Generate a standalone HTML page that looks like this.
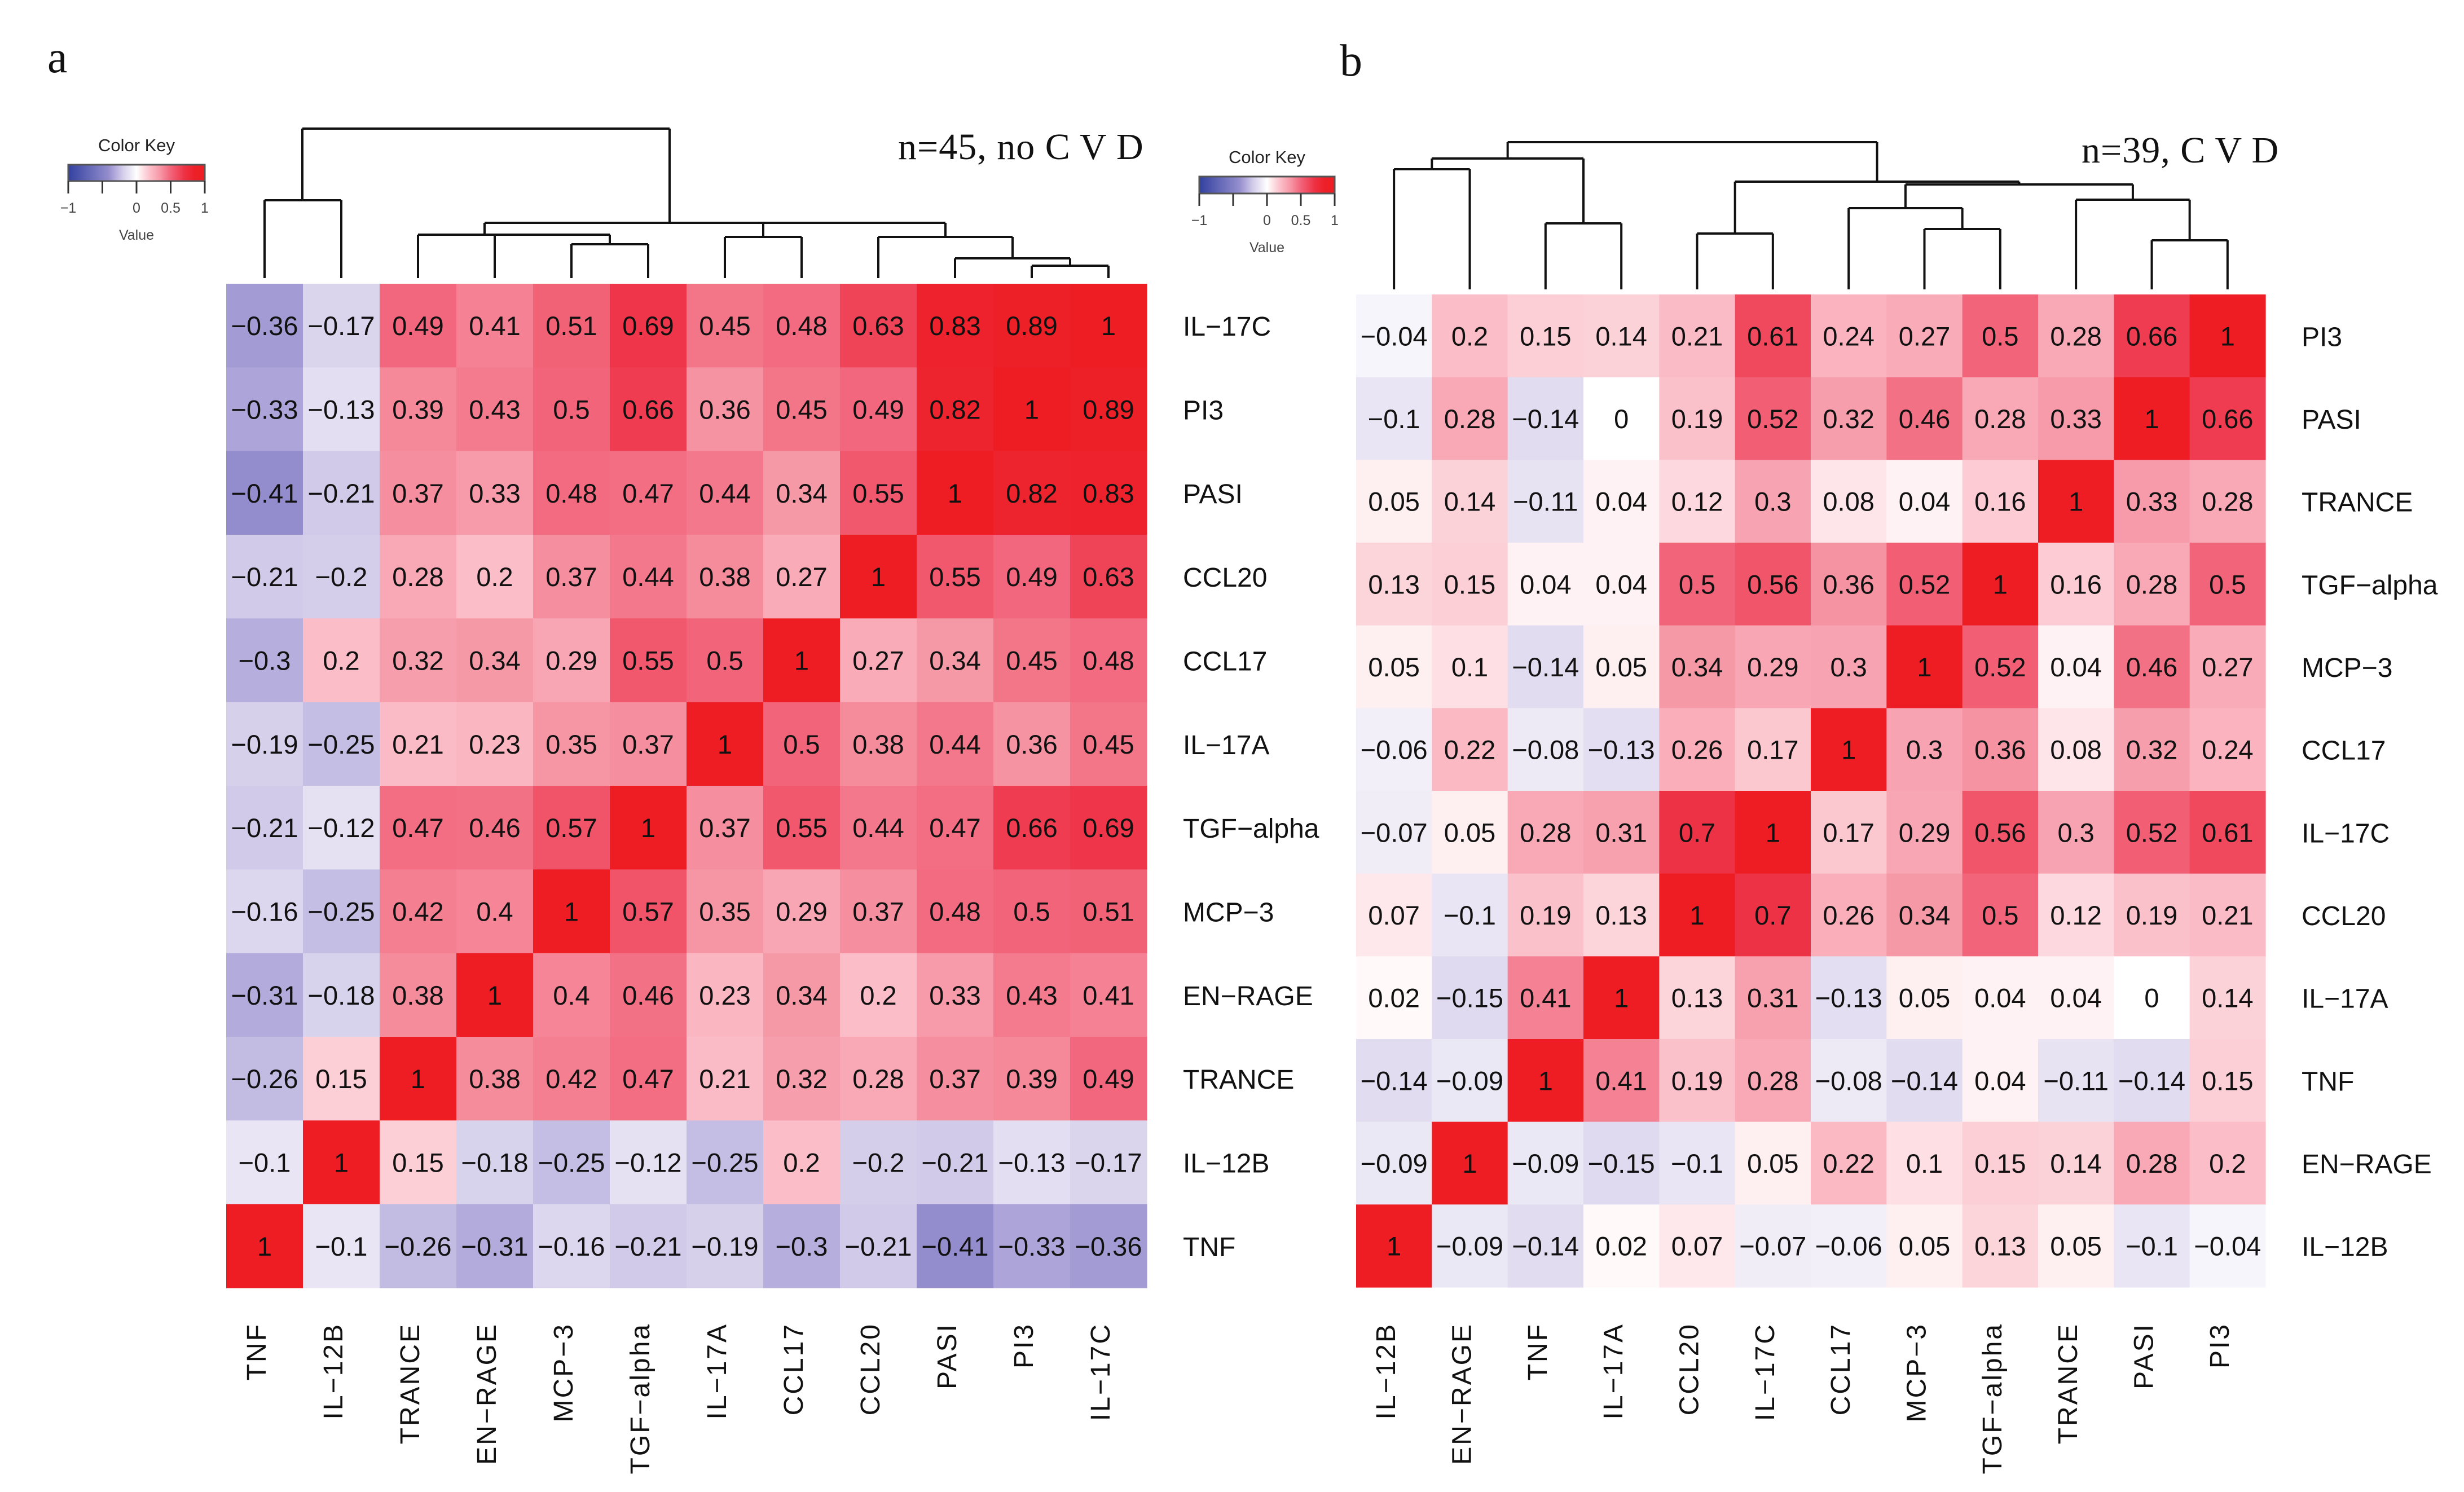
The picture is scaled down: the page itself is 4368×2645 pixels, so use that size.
<!DOCTYPE html>
<html><head><meta charset="utf-8">
<style>
html,body{margin:0;padding:0;background:#fff;}
svg{display:block;}
text{font-family:"Liberation Sans",Arial,sans-serif;}
.serif{font-family:"Liberation Serif","DejaVu Serif",serif;}
</style></head>
<body>
<svg id="chart" xmlns="http://www.w3.org/2000/svg" width="4368" height="2645" viewBox="0 0 4368 2645">
<rect x="0" y="0" width="4368" height="2645" fill="#fff"/>
<g id="panelA"></g>
<g id="panelB"></g>
</svg>
<script>
const colsA = ["TNF","IL−12B","TRANCE","EN−RAGE","MCP−3","TGF−alpha","IL−17A","CCL17","CCL20","PASI","PI3","IL−17C"];
const rowsA = ["IL−17C","PI3","PASI","CCL20","CCL17","IL−17A","TGF−alpha","MCP−3","EN−RAGE","TRANCE","IL−12B","TNF"];
const valsA = [
[-0.36,-0.17,0.49,0.41,0.51,0.69,0.45,0.48,0.63,0.83,0.89,1],
[-0.33,-0.13,0.39,0.43,0.5,0.66,0.36,0.45,0.49,0.82,1,0.89],
[-0.41,-0.21,0.37,0.33,0.48,0.47,0.44,0.34,0.55,1,0.82,0.83],
[-0.21,-0.2,0.28,0.2,0.37,0.44,0.38,0.27,1,0.55,0.49,0.63],
[-0.3,0.2,0.32,0.34,0.29,0.55,0.5,1,0.27,0.34,0.45,0.48],
[-0.19,-0.25,0.21,0.23,0.35,0.37,1,0.5,0.38,0.44,0.36,0.45],
[-0.21,-0.12,0.47,0.46,0.57,1,0.37,0.55,0.44,0.47,0.66,0.69],
[-0.16,-0.25,0.42,0.4,1,0.57,0.35,0.29,0.37,0.48,0.5,0.51],
[-0.31,-0.18,0.38,1,0.4,0.46,0.23,0.34,0.2,0.33,0.43,0.41],
[-0.26,0.15,1,0.38,0.42,0.47,0.21,0.32,0.28,0.37,0.39,0.49],
[-0.1,1,0.15,-0.18,-0.25,-0.12,-0.25,0.2,-0.2,-0.21,-0.13,-0.17],
[1,-0.1,-0.26,-0.31,-0.16,-0.21,-0.19,-0.3,-0.21,-0.41,-0.33,-0.36]
];
const colsB = ["IL−12B","EN−RAGE","TNF","IL−17A","CCL20","IL−17C","CCL17","MCP−3","TGF−alpha","TRANCE","PASI","PI3"];
const rowsB = ["PI3","PASI","TRANCE","TGF−alpha","MCP−3","CCL17","IL−17C","CCL20","IL−17A","TNF","EN−RAGE","IL−12B"];
const valsB = [
[-0.04,0.2,0.15,0.14,0.21,0.61,0.24,0.27,0.5,0.28,0.66,1],
[-0.1,0.28,-0.14,0,0.19,0.52,0.32,0.46,0.28,0.33,1,0.66],
[0.05,0.14,-0.11,0.04,0.12,0.3,0.08,0.04,0.16,1,0.33,0.28],
[0.13,0.15,0.04,0.04,0.5,0.56,0.36,0.52,1,0.16,0.28,0.5],
[0.05,0.1,-0.14,0.05,0.34,0.29,0.3,1,0.52,0.04,0.46,0.27],
[-0.06,0.22,-0.08,-0.13,0.26,0.17,1,0.3,0.36,0.08,0.32,0.24],
[-0.07,0.05,0.28,0.31,0.7,1,0.17,0.29,0.56,0.3,0.52,0.61],
[0.07,-0.1,0.19,0.13,1,0.7,0.26,0.34,0.5,0.12,0.19,0.21],
[0.02,-0.15,0.41,1,0.13,0.31,-0.13,0.05,0.04,0.04,0,0.14],
[-0.14,-0.09,1,0.41,0.19,0.28,-0.08,-0.14,0.04,-0.11,-0.14,0.15],
[-0.09,1,-0.09,-0.15,-0.1,0.05,0.22,0.1,0.15,0.14,0.28,0.2],
[1,-0.09,-0.14,0.02,0.07,-0.07,-0.06,0.05,0.13,0.05,-0.1,-0.04]
];
const keyTicks = [-1,-0.5,0,0.5,1];
const keyLabels = ["−1","","0","0.5","1"];

const NS="http://www.w3.org/2000/svg";
function mk(tag, attrs, parent){const e=document.createElementNS(NS,tag);for(const k in attrs)e.setAttribute(k,attrs[k]);if(parent)parent.appendChild(e);return e;}

const posStops=[[0,[255,255,255]],[0.2,[251,190,200]],[0.35,[246,150,165]],[0.5,[242,100,122]],[0.7,[238,50,70]],[0.85,[237,32,40]],[1,[238,29,36]]];
const negStops=[[0,[255,255,255]],[0.1,[233,229,244]],[0.2,[212,206,234]],[0.3,[182,174,221]],[0.41,[148,141,205]],[1,[50,65,160]]];
function interp(stops,t){for(let i=1;i<stops.length;i++){if(t<=stops[i][0]){const a=stops[i-1],b=stops[i];const f=(t-a[0])/(b[0]-a[0]);return a[1].map((c,j)=>Math.round(c+(b[1][j]-c)*f));}}return stops[stops.length-1][1];}
function color(v){const c=v>=0?interp(posStops,v):interp(negStops,-v);return `rgb(${c[0]},${c[1]},${c[2]})`;}
function fmt(v){return v<0?"−"+String(-v):String(v);}

function drawHeatmap(g, cols, rows, vals, L, T, W, H, rowLabelX, colLabelY, tag){
  const cw=W/cols.length, ch=H/rows.length;
  const xs=i=>L+i*cw, ys=j=>T+j*ch;
  const cells=mk('g',{},g);
  
  
  rows.forEach((r,j)=>{cols.forEach((c,i)=>{
    const v=vals[j][i];
    const rect=mk('rect',{x:xs(i),y:ys(j),width:cw+0.6,height:ch+0.6,fill:color(v)},cells);
    
    
    const t=mk('text',{x:xs(i)+cw/2,y:ys(j)+ch/2+17,'text-anchor':'middle','font-size':47,fill:'#111'},cells);
    
    
    t.textContent=fmt(v);
  });});
  rows.forEach((r,j)=>{
    const t=mk('text',{x:rowLabelX,y:ys(j)+ch/2+18,'font-size':48,fill:'#111'},g);
    
    
    t.textContent=r;
  });
  cols.forEach((c,i)=>{
    const cx=xs(i)+cw/2+2;
    const t=mk('text',{x:cx,y:colLabelY,'font-size':48,fill:'#111','text-anchor':'end','letter-spacing':3,transform:`rotate(-90 ${cx} ${colLabelY})`},g);
    
    
    t.textContent=c;
  });
  return {cx:i=>xs(i)+cw/2};
}

function dendro(g, segs, tag){
  const dg=mk('g',{stroke:'#111','stroke-width':4,fill:'none'},g);
  
  
  segs.forEach(s=>mk('line',{x1:s[0],y1:s[1],x2:s[2],y2:s[3]},dg));
}
function node(segs, xl, xr, y, yl, yr){segs.push([xl,y,xr,y],[xl,y,xl,yl],[xr,y,xr,yr]);}

function colorKey(g, x, y, w, h, tag){
  const kg=mk('g',{},g);
  
  
  const defs=mk('defs',{},kg);
  const gr=mk('linearGradient',{id:tag+'-grad',x1:0,x2:1,y1:0,y2:0},defs);
  for(let k=0;k<=40;k++){const v=-1+k/20;mk('stop',{offset:(k/40),'stop-color':color(v)},gr);}
  const t=mk('text',{x:x+w/2,y:y-24,'text-anchor':'middle','font-size':31,fill:'#222'},kg);
  t.textContent='Color Key';
  mk('rect',{x:x,y:y,width:w,height:h,fill:`url(#${tag}-grad)`,stroke:'#555','stroke-width':3},kg);
  keyTicks.forEach((v,i)=>{
    const tx=x+(v+1)/2*w;
    mk('line',{x1:tx,y1:y+h,x2:tx,y2:y+h+22,stroke:'#333','stroke-width':3},kg);
    const l=mk('text',{x:tx,y:y+h+56,'text-anchor':'middle','font-size':25,fill:'#444'},kg);
    l.textContent=keyLabels[i];
  });
  const vl=mk('text',{x:x+w/2,y:y+h+104,'text-anchor':'middle','font-size':25,fill:'#444'},kg);
  vl.textContent='Value';
}

// Panel A
const gA=document.getElementById('panelA');
const A=drawHeatmap(gA,colsA,rowsA,valsA,401,503,1632,1780,2097,2345,'heatmap-a');
let sA=[];
const ax=A.cx;
node(sA, ax(10), ax(11), 471, 493, 493);
node(sA, ax(9), (ax(10)+ax(11))/2, 458, 493, 471);
node(sA, ax(8), (ax(9)+(ax(10)+ax(11))/2)/2, 420, 493, 458);
node(sA, ax(6), ax(7), 420, 493, 493);
node(sA, ax(4), ax(5), 433, 493, 493);
sA.push([ax(2),416,(ax(4)+ax(5))/2,416],[ax(2),416,ax(2),493],[ax(3),416,ax(3),493],[(ax(4)+ax(5))/2,416,(ax(4)+ax(5))/2,433]);
const xAcl=859, xC=(ax(8)+(ax(9)+(ax(10)+ax(11))/2)/2)/2;
sA.push([xAcl,395,xC,395],[xAcl,395,xAcl,416],[(ax(6)+ax(7))/2,395,(ax(6)+ax(7))/2,420],[xC,395,xC,420]);
node(sA, ax(0), ax(1), 355, 493, 493);
sA.push([536,228,1187,228],[536,228,536,355],[1187,228,1187,395]);
dendro(gA,sA,'dendrogram-a');
colorKey(gA,121,292,242,29,'color-key-a');
let t=mk('text',{x:84,y:128,'font-size':80,fill:'#111',class:'serif'},gA);
t.textContent='a';
t=mk('text',{x:1592,y:282,'font-size':66,fill:'#111',class:'serif','letter-spacing':1},gA);
t.textContent='n=45, no C V D';

// Panel B
const gB=document.getElementById('panelB');
const B=drawHeatmap(gB,colsB,rowsB,valsB,2404,522,1612,1760,4080,2345,'heatmap-b');
let sB=[];
const bx=B.cx;
node(sB, bx(0), bx(1), 300, 513, 513);
node(sB, bx(2), bx(3), 396, 513, 513);
node(sB, (bx(0)+bx(1))/2, (bx(2)+bx(3))/2, 281, 300, 396);
node(sB, bx(4), bx(5), 414, 513, 513);
node(sB, bx(7), bx(8), 406, 513, 513);
node(sB, bx(6), (bx(7)+bx(8))/2, 369, 513, 406);
node(sB, bx(10), bx(11), 426, 513, 513);
node(sB, bx(9), (bx(10)+bx(11))/2, 354, 513, 426);
const sL=(bx(6)+(bx(7)+bx(8))/2)/2, sR=(bx(9)+(bx(10)+bx(11))/2)/2;
node(sB, sL, sR, 327, 369, 354);
const r45=(bx(4)+bx(5))/2, sM=(sL+sR)/2;
node(sB, r45, sM, 322, 414, 327);
const lM=((bx(0)+bx(1))/2+(bx(2)+bx(3))/2)/2, rM=(r45+sM)/2;
node(sB, lM, rM, 252, 281, 322);
dendro(gB,sB,'dendrogram-b');
colorKey(gB,2126,313,240,30,'color-key-b');
t=mk('text',{x:2375,y:134,'font-size':80,fill:'#111',class:'serif'},gB);
t.textContent='b';
t=mk('text',{x:3690,y:288,'font-size':66,fill:'#111',class:'serif','letter-spacing':1},gB);
t.textContent='n=39, C V D';
</script>
</body></html>
